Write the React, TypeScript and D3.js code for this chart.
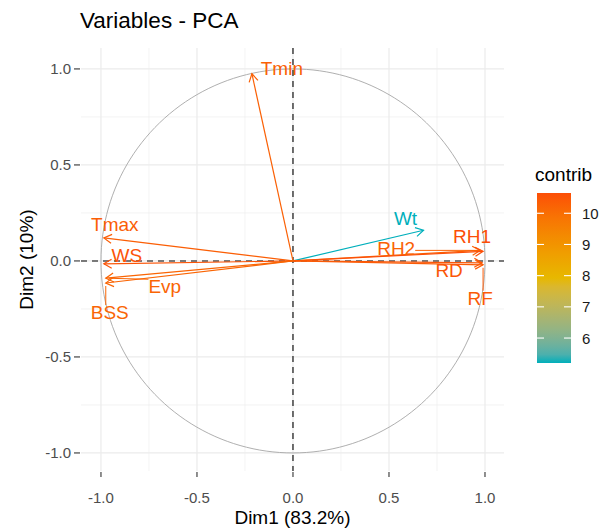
import React, { useEffect, useRef } from "react";
import * as d3 from "d3";

// PCA variable coordinates (Dim1, Dim2) and contributions
const variables = ["Tmin", "Tmax", "WS", "Evp", "BSS", "Wt", "RH2", "RH1", "RD", "RF"];
const dim1 = [-0.214, -0.985, -0.985, -0.975, -0.975, 0.68, 0.975, 0.99, 0.985, 0.99];
const dim2 = [0.975, 0.12, -0.015, -0.09, -0.115, 0.16, 0.055, 0.05, -0.01, -0.02];
const contrib = [10.3, 10.35, 10.55, 10.2, 10.2, 5.2, 10.25, 10.65, 10.5, 10.4];

const axisTicks = [-1.0, -0.5, 0.0, 0.5, 1.0];
const minorTicks = [-0.75, -0.25, 0.25, 0.75];
const legendTicks = [6, 7, 8, 9, 10];
const gradientCols = ["#00AFBB", "#E7B800", "#FC4E07"];

// label nudges in px (ggrepel result), relative to arrow tip; seg = draw connector
const labelNudge: Record<string, { dx: number; dy: number; seg?: boolean }> = {
  Tmin: { dx: 30, dy: 1 },
  Tmax: { dx: 11, dy: -7 },
  WS: { dx: 23, dy: -2 },
  Evp: { dx: 59, dy: 15, seg: true },
  BSS: { dx: 4, dy: 36, seg: true },
  Wt: { dx: -18, dy: -5 },
  RH2: { dx: -84, dy: 5, seg: true },
  RH1: { dx: -11, dy: -8 },
  RD: { dx: -33, dy: 14 },
  RF: { dx: -3, dy: 40, seg: true },
};

const W = 603;
const H = 529;
const FONT = "'Liberation Sans', Arial, sans-serif";

const App = () => {
  const ref = useRef<SVGSVGElement>(null);

  useEffect(() => {
    const svg = d3.select(ref.current);
    svg.selectAll("*").remove();

    const panel = { left: 81, right: 504, top: 48, bottom: 471 };
    const x = d3.scaleLinear().domain([-1.104, 1.099]).range([panel.left, panel.right]);
    const y = d3.scaleLinear().domain([-1.094, 1.109]).range([panel.bottom, panel.top]);

    const cMin = d3.min(contrib) as number;
    const cMax = d3.max(contrib) as number;
    const color = d3
      .scaleLinear<string>()
      .domain([cMin, (cMin + cMax) / 2, cMax])
      .range(gradientCols)
      .interpolate(d3.interpolateLab);

    // grid
    const grid = svg.append("g");
    minorTicks.forEach((t) => {
      grid.append("line").attr("x1", x(t)).attr("x2", x(t)).attr("y1", panel.top).attr("y2", panel.bottom)
        .attr("stroke", "#EBEBEB").attr("stroke-width", 0.6);
      grid.append("line").attr("y1", y(t)).attr("y2", y(t)).attr("x1", panel.left).attr("x2", panel.right)
        .attr("stroke", "#EBEBEB").attr("stroke-width", 0.6);
    });
    axisTicks.forEach((t) => {
      grid.append("line").attr("x1", x(t)).attr("x2", x(t)).attr("y1", panel.top).attr("y2", panel.bottom)
        .attr("stroke", "#EBEBEB").attr("stroke-width", 1.2);
      grid.append("line").attr("y1", y(t)).attr("y2", y(t)).attr("x1", panel.left).attr("x2", panel.right)
        .attr("stroke", "#EBEBEB").attr("stroke-width", 1.2);
    });

    // correlation circle
    const circ = d3.range(0, 361, 2).map((a) => [Math.cos((a * Math.PI) / 180), Math.sin((a * Math.PI) / 180)]);
    svg.append("path")
      .datum(circ)
      .attr("d", d3.line<number[]>().x((d) => x(d[0])).y((d) => y(d[1])))
      .attr("fill", "none").attr("stroke", "#A6A6A6").attr("stroke-width", 0.9);

    // dashed reference lines
    svg.append("line").attr("x1", panel.left).attr("x2", panel.right).attr("y1", y(0)).attr("y2", y(0))
      .attr("stroke", "black").attr("stroke-width", 1.1).attr("stroke-dasharray", "6 5");
    svg.append("line").attr("y1", panel.top).attr("y2", panel.bottom).attr("x1", x(0)).attr("x2", x(0))
      .attr("stroke", "black").attr("stroke-width", 1.1).attr("stroke-dasharray", "6 5");

    // axes ticks + labels
    const axisG = svg.append("g").attr("font-family", FONT);
    axisTicks.forEach((t) => {
      axisG.append("line").attr("x1", x(t)).attr("x2", x(t)).attr("y1", panel.bottom + 1).attr("y2", panel.bottom + 6)
        .attr("stroke", "#333").attr("stroke-width", 1.1);
      axisG.append("text").attr("x", x(t)).attr("y", panel.bottom + 32).attr("text-anchor", "middle")
        .attr("font-size", 15).attr("fill", "#4D4D4D").text(t.toFixed(1));
      axisG.append("line").attr("y1", y(t)).attr("y2", y(t)).attr("x1", panel.left - 7).attr("x2", panel.left - 1)
        .attr("stroke", "#333").attr("stroke-width", 1.1);
      axisG.append("text").attr("x", panel.left - 10).attr("y", y(t) + 5).attr("text-anchor", "end")
        .attr("font-size", 15).attr("fill", "#4D4D4D").text(t.toFixed(1));
    });

    axisG.append("text").attr("x", (panel.left + panel.right) / 2).attr("y", 524).attr("text-anchor", "middle")
      .attr("font-size", 19).attr("fill", "black").text("Dim1 (83.2%)");
    axisG.append("text").attr("transform", `translate(33,${(panel.top + panel.bottom) / 2}) rotate(-90)`)
      .attr("text-anchor", "middle").attr("font-size", 19).attr("fill", "black").text("Dim2 (10%)");

    svg.append("text").attr("x", 80).attr("y", 28).attr("font-family", FONT).attr("font-size", 22.5)
      .attr("fill", "black").text("Variables - PCA");

    // arrows
    const arrowLen = 9;
    const arrowAng = (30 * Math.PI) / 180;
    const arrows = svg.append("g");
    variables.forEach((v, i) => {
      const x0 = x(0), y0 = y(0);
      const x1 = x(dim1[i]), y1 = y(dim2[i]);
      const col = color(contrib[i]);
      arrows.append("line").attr("x1", x0).attr("y1", y0).attr("x2", x1).attr("y2", y1)
        .attr("stroke", col).attr("stroke-width", 1.2);
      const ang = Math.atan2(y1 - y0, x1 - x0);
      const p1 = [x1 - arrowLen * Math.cos(ang - arrowAng), y1 - arrowLen * Math.sin(ang - arrowAng)];
      const p2 = [x1 - arrowLen * Math.cos(ang + arrowAng), y1 - arrowLen * Math.sin(ang + arrowAng)];
      arrows.append("path").attr("d", `M${p1[0]},${p1[1]}L${x1},${y1}L${p2[0]},${p2[1]}`)
        .attr("fill", "none").attr("stroke", col).attr("stroke-width", 1.2);
    });

    // labels
    const labels = svg.append("g").attr("font-family", FONT).attr("font-size", 19);
    variables.forEach((v, i) => {
      const px = x(dim1[i]), py = y(dim2[i]);
      const n = labelNudge[v];
      const lx = px + n.dx, ly = py + n.dy;
      const col = color(contrib[i]);
      const t = labels.append("text").attr("x", lx).attr("y", ly).attr("text-anchor", "middle")
        .attr("fill", col).text(v);
      if (n.seg) {
        const bb = (t.node() as SVGTextElement).getBBox();
        const cx = Math.max(bb.x, Math.min(px, bb.x + bb.width));
        const cy = Math.max(bb.y + 3, Math.min(py, bb.y + bb.height - 3));
        const dx = px - cx, dy = py - cy;
        const d = Math.hypot(dx, dy);
        const pad = 3;
        if (d > pad * 2) {
          labels.append("line").attr("x1", cx).attr("y1", cy)
            .attr("x2", px - (dx / d) * pad).attr("y2", py - (dy / d) * pad)
            .attr("stroke", col).attr("stroke-width", 1);
        }
      }
    });

    // legend
    const leg = svg.append("g").attr("font-family", FONT);
    const ly = d3.scaleLinear().domain([cMin, cMax]).range([363, 193]);
    const defs = svg.append("defs");
    const grad = defs.append("linearGradient").attr("id", "contribGrad")
      .attr("x1", 0).attr("y1", 1).attr("x2", 0).attr("y2", 0);
    d3.range(0, 1.0001, 0.05).forEach((f) => {
      grad.append("stop").attr("offset", f).attr("stop-color", color(cMin + f * (cMax - cMin)));
    });
    const barX = 537, barW = 34;
    leg.append("text").attr("x", 535).attr("y", 181).attr("font-size", 19).attr("fill", "black").text("contrib");
    leg.append("rect").attr("x", barX).attr("y", ly(cMax)).attr("width", barW).attr("height", ly(cMin) - ly(cMax))
      .attr("fill", "url(#contribGrad)");
    legendTicks.forEach((t) => {
      leg.append("line").attr("x1", barX).attr("x2", barX + 7).attr("y1", ly(t)).attr("y2", ly(t))
        .attr("stroke", "white").attr("stroke-width", 1.1);
      leg.append("line").attr("x1", barX + barW - 7).attr("x2", barX + barW).attr("y1", ly(t)).attr("y2", ly(t))
        .attr("stroke", "white").attr("stroke-width", 1.1);
      leg.append("text").attr("x", 582).attr("y", ly(t) + 5.5).attr("font-size", 15).attr("fill", "#1A1A1A").text(t);
    });
  }, []);

  return <svg ref={ref} width={W} height={H} style={{ position: "absolute", left: 0, top: 0, background: "white" }}></svg>;
};

export default App;
